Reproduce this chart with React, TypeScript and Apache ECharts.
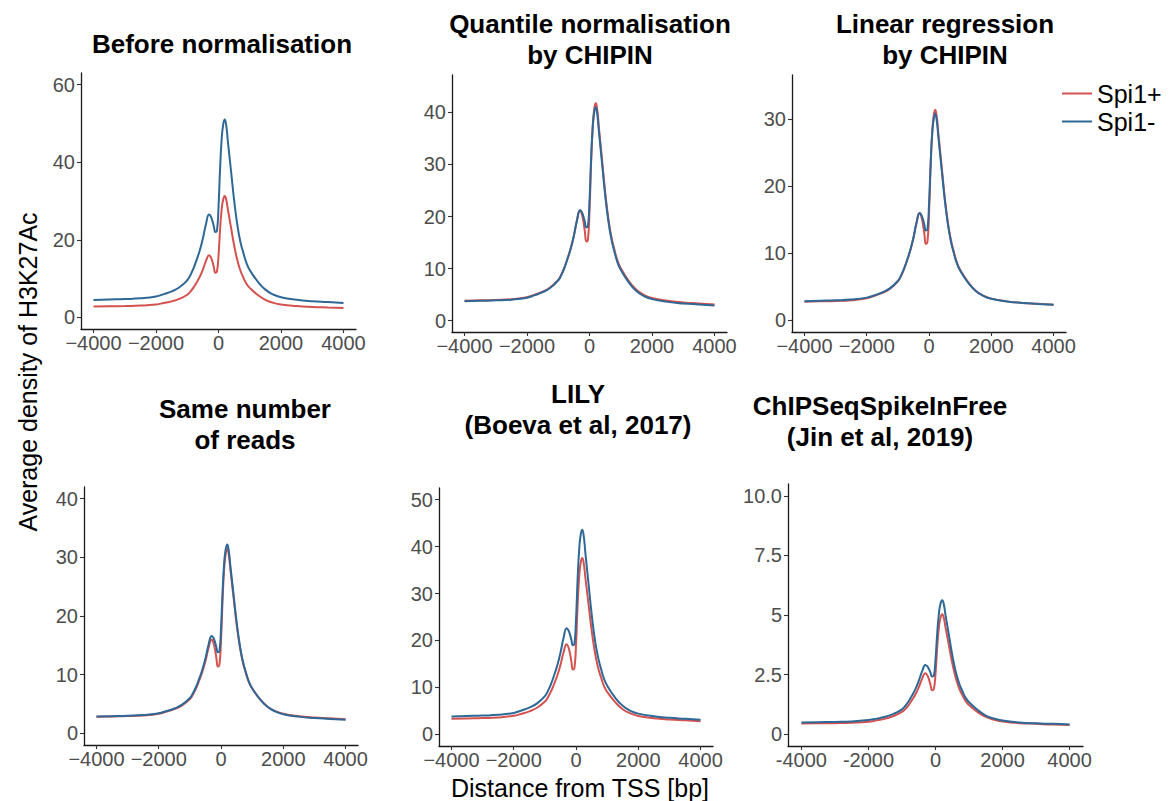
import React, { useEffect, useRef } from "react";
import * as echarts from "echarts";

// Distance from TSS (bp)
const positions = [-4000, -3500, -3000, -2500, -2000, -1750, -1500, -1250, -1000, -900, -800, -700, -600, -500, -400, -300, -250, -200, -150, -100, -50, 0, 50, 100, 150, 200, 250, 300, 400, 500, 600, 700, 800, 900, 1000, 1250, 1500, 1750, 2000, 2500, 3000, 3500, 4000];

// Before normalisation
const beforePlus = [2.8, 2.87, 2.93, 3.04, 3.33, 3.7, 4.12, 4.75, 5.84, 6.63, 7.68, 9.0, 10.46, 12.3, 14.55, 16.0, 15.55, 14.5, 12.99, 11.5, 11.82, 15.86, 22.59, 27.74, 30.41, 31.3, 30.26, 27.83, 23.21, 18.58, 14.83, 12.08, 10.2, 8.61, 7.6, 5.81, 4.51, 3.76, 3.32, 2.92, 2.69, 2.54, 2.4];
const beforeMinus = [4.5, 4.61, 4.72, 4.9, 5.38, 6.0, 6.7, 7.75, 9.56, 10.88, 12.64, 14.84, 17.26, 20.34, 24.08, 26.5, 26.05, 25.0, 23.5, 22.0, 22.3, 28.4, 38.2, 45.8, 49.7, 51.0, 49.3, 45.3, 37.8, 30.2, 24.0, 19.5, 16.5, 13.9, 12.2, 9.3, 7.15, 5.9, 5.2, 4.55, 4.17, 3.94, 3.7];
// Quantile normalisation by CHIPIN
const quantilePlus = [3.8, 3.89, 3.97, 4.11, 4.5, 4.98, 5.54, 6.4, 7.8, 8.85, 10.24, 11.98, 13.89, 16.33, 19.29, 21.2, 20.6, 19.22, 17.18, 15.2, 15.62, 21.05, 30.1, 37.01, 40.6, 41.8, 40.41, 37.16, 30.96, 24.77, 19.74, 16.06, 13.55, 11.42, 10.07, 7.67, 5.93, 4.92, 4.34, 3.8, 3.49, 3.29, 3.1];
const quantileMinus = [3.7, 3.79, 3.88, 4.02, 4.4, 4.89, 5.45, 6.3, 7.73, 8.78, 10.18, 11.93, 13.85, 16.3, 19.28, 21.2, 20.87, 20.11, 18.99, 17.9, 18.13, 22.98, 30.84, 36.84, 39.96, 41.0, 39.63, 36.43, 30.33, 24.24, 19.28, 15.66, 13.19, 11.09, 9.76, 7.4, 5.68, 4.69, 4.12, 3.59, 3.28, 3.09, 2.9];
// Linear regression by CHIPIN
const linearPlus = [2.75, 2.82, 2.88, 2.99, 3.28, 3.65, 4.08, 4.72, 5.8, 6.59, 7.65, 8.98, 10.44, 12.29, 14.54, 16.0, 15.54, 14.48, 12.92, 11.4, 11.72, 15.8, 22.6, 27.8, 30.5, 31.4, 30.35, 27.91, 23.25, 18.6, 14.81, 12.05, 10.16, 8.56, 7.54, 5.73, 4.42, 3.67, 3.23, 2.82, 2.59, 2.45, 2.3];
const linearMinus = [2.85, 2.92, 2.98, 3.09, 3.38, 3.74, 4.17, 4.8, 5.87, 6.66, 7.72, 9.03, 10.48, 12.32, 14.55, 16.0, 15.74, 15.14, 14.26, 13.4, 13.58, 17.23, 23.14, 27.67, 30.02, 30.8, 29.77, 27.38, 22.82, 18.26, 14.56, 11.85, 10.0, 8.43, 7.43, 5.66, 4.38, 3.64, 3.21, 2.81, 2.59, 2.44, 2.3];
// Same number of reads
const sameReadsPlus = [2.8, 2.87, 2.93, 3.04, 3.33, 3.7, 4.12, 4.75, 5.84, 6.63, 7.68, 9.0, 10.46, 12.3, 14.55, 16.0, 15.54, 14.48, 12.92, 11.4, 11.72, 15.82, 22.66, 27.88, 30.6, 31.5, 30.45, 28.01, 23.35, 18.7, 14.91, 12.15, 10.26, 8.66, 7.64, 5.83, 4.52, 3.77, 3.33, 2.92, 2.69, 2.55, 2.4];
const sameReadsMinus = [2.85, 2.92, 2.99, 3.1, 3.4, 3.79, 4.23, 4.88, 6.01, 6.84, 7.94, 9.31, 10.83, 12.75, 15.09, 16.6, 16.32, 15.68, 14.72, 13.8, 14.0, 17.85, 24.1, 28.89, 31.37, 32.2, 31.12, 28.61, 23.83, 19.04, 15.16, 12.32, 10.37, 8.73, 7.68, 5.83, 4.48, 3.71, 3.26, 2.84, 2.6, 2.45, 2.3];
// LILY
const lilyPlus = [3.3, 3.38, 3.46, 3.59, 3.94, 4.38, 4.89, 5.65, 6.96, 7.91, 9.18, 10.77, 12.52, 14.75, 17.45, 19.2, 18.66, 17.42, 15.58, 13.8, 14.18, 19.04, 27.13, 33.32, 36.53, 37.6, 36.35, 33.42, 27.86, 22.29, 17.76, 14.46, 12.2, 10.28, 9.06, 6.91, 5.34, 4.44, 3.91, 3.43, 3.15, 2.97, 2.8];
const lilyMinus = [3.8, 3.89, 3.99, 4.14, 4.55, 5.08, 5.68, 6.58, 8.12, 9.25, 10.76, 12.64, 14.7, 17.34, 20.53, 22.6, 22.24, 21.41, 20.19, 19.0, 19.25, 24.41, 32.78, 39.17, 42.49, 43.6, 42.14, 38.74, 32.26, 25.78, 20.52, 16.67, 14.04, 11.81, 10.39, 7.88, 6.06, 5.0, 4.4, 3.83, 3.51, 3.3, 3.1];
// ChIPSeqSpikeInFree
const spikePlus = [0.44, 0.45, 0.46, 0.48, 0.52, 0.58, 0.65, 0.76, 0.93, 1.05, 1.22, 1.43, 1.66, 1.96, 2.32, 2.55, 2.48, 2.32, 2.07, 1.84, 1.89, 2.54, 3.63, 4.46, 4.89, 5.03, 4.86, 4.47, 3.73, 2.98, 2.38, 1.94, 1.64, 1.38, 1.22, 0.93, 0.72, 0.6, 0.53, 0.46, 0.43, 0.4, 0.38];
const spikeMinus = [0.49, 0.5, 0.51, 0.53, 0.59, 0.65, 0.73, 0.85, 1.04, 1.19, 1.38, 1.62, 1.89, 2.23, 2.63, 2.9, 2.85, 2.74, 2.58, 2.42, 2.45, 3.12, 4.21, 5.04, 5.48, 5.62, 5.43, 4.99, 4.16, 3.32, 2.64, 2.15, 1.81, 1.52, 1.34, 1.02, 0.78, 0.65, 0.57, 0.49, 0.45, 0.43, 0.4];

const seriesNames = ["Spi1+", "Spi1-"];
const panelTitles = [
  "Before normalisation",
  "Quantile normalisation\nby CHIPIN",
  "Linear regression\nby CHIPIN",
  "Same number\nof reads",
  "LILY\n(Boeva et al, 2017)",
  "ChIPSeqSpikeInFree\n(Jin et al, 2019)",
];
const xTicks = [-4000, -2000, 0, 2000, 4000];
const yTicks = [
  [0, 20, 40, 60],
  [0, 10, 20, 30, 40],
  [0, 10, 20, 30],
  [0, 10, 20, 30, 40],
  [0, 10, 20, 30, 40, 50],
  [0, 2.5, 5, 7.5, 10],
];
const yRanges = [
  [-3, 63],
  [-2.2, 47.2],
  [-1.75, 36.6],
  [-2, 42],
  [-2.5, 52.5],
  [-0.5, 10.5],
];
const plusData = [beforePlus, quantilePlus, linearPlus, sameReadsPlus, lilyPlus, spikePlus];
const minusData = [beforeMinus, quantileMinus, linearMinus, sameReadsMinus, lilyMinus, spikeMinus];

// layout (pixels)
const grids = [
  { left: 81, top: 73, width: 275, height: 256 },
  { left: 452, top: 75, width: 275, height: 257 },
  { left: 792, top: 75, width: 274, height: 257 },
  { left: 84, top: 487, width: 274, height: 258 },
  { left: 439, top: 488, width: 274, height: 258 },
  { left: 788, top: 484, width: 295, height: 262 },
];
const titlePos = [
  [222, 44],
  [590, 39.5],
  [945, 39.5],
  [245, 424],
  [578, 409],
  [880, 421],
];

const RED = "#D4524F";
const BLUE = "#2E6896";
const FONT = "'Liberation Sans', Arial, Helvetica, sans-serif";

export default function App() {
  const ref = useRef<HTMLDivElement>(null);
  useEffect(() => {
    document.body.style.margin = "0";
    const chart = echarts.init(ref.current!, null, { renderer: "svg" });
    const xAxis: any[] = [];
    const yAxis: any[] = [];
    const series: any[] = [];
    grids.forEach((g, i) => {
      const minusSign = i < 5;
      xAxis.push({
        type: "value",
        gridIndex: i,
        min: -4400,
        max: 4400,
        splitLine: { show: false },
        axisLine: { show: true, onZero: false, lineStyle: { color: "#1a1a1a", width: 1.3 } },
        axisTick: { show: true, length: 4, customValues: xTicks, lineStyle: { color: "#333", width: 1.1 } },
        axisLabel: {
          customValues: xTicks,
          color: "#4D4D4D",
          fontSize: 20,
          fontFamily: FONT,
          margin: 4,
          formatter: (v: number) => (v < 0 && minusSign ? "\u2212" + Math.abs(v) : String(v)),
        },
      });
      yAxis.push({
        type: "value",
        gridIndex: i,
        min: yRanges[i][0],
        max: yRanges[i][1],
        splitLine: { show: false },
        axisLine: { show: true, onZero: false, lineStyle: { color: "#1a1a1a", width: 1.3 } },
        axisTick: { show: true, length: 4, customValues: yTicks[i], lineStyle: { color: "#333", width: 1.1 } },
        axisLabel: {
          customValues: yTicks[i],
          color: "#4D4D4D",
          fontSize: 20,
          fontFamily: FONT,
          margin: 6,
          formatter: (v: number) => (i === 5 && v === 10 ? "10.0" : String(v)),
        },
      });
      [plusData[i], minusData[i]].forEach((vals, k) => {
        series.push({
          type: "line",
          name: seriesNames[k],
          xAxisIndex: i,
          yAxisIndex: i,
          data: positions.map((p, j) => [p, vals[j]]),
          showSymbol: false,
          smooth: 0.5,
          lineStyle: { width: 2, color: k === 0 ? RED : BLUE },
          itemStyle: { color: k === 0 ? RED : BLUE },
        });
      });
    });

    const graphic: any[] = panelTitles.map((t, i) => ({
      type: "text",
      x: titlePos[i][0],
      y: titlePos[i][1],
      style: {
        text: t,
        align: "center",
        verticalAlign: "middle",
        fontSize: 26,
        fontWeight: "bold",
        lineHeight: 31,
        fontFamily: FONT,
        fill: "#000",
      },
    }));
    graphic.push({
      type: "text",
      x: 28,
      y: 372,
      rotation: Math.PI / 2,
      style: {
        text: "Average density of H3K27Ac",
        align: "center",
        verticalAlign: "middle",
        fontSize: 25,
        fontFamily: FONT,
        fill: "#000",
      },
    });
    graphic.push({
      type: "text",
      x: 580,
      y: 788,
      style: {
        text: "Distance from TSS [bp]",
        align: "center",
        verticalAlign: "middle",
        fontSize: 25,
        fontFamily: FONT,
        fill: "#000",
      },
    });

    chart.setOption({
      animation: false,
      backgroundColor: "#fff",
      grid: grids.map((g) => ({ ...g, containLabel: false })),
      xAxis,
      yAxis,
      series,
      legend: {
        data: seriesNames,
        orient: "vertical",
        left: 1062,
        top: 81,
        padding: 0,
        itemWidth: 30,
        itemHeight: 2,
        itemGap: 3,
        icon: "rect",
        selectedMode: false,
        textStyle: { fontSize: 25, color: "#000", fontFamily: FONT },
      },
      graphic,
    });
    return () => chart.dispose();
  }, []);
  return <div ref={ref} style={{ width: 1172, height: 801 }} />;
}
